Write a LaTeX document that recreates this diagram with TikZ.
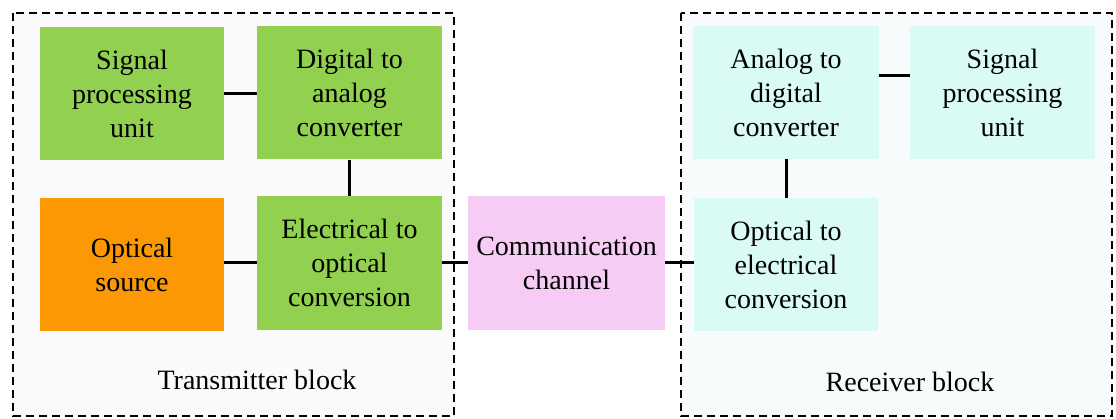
\documentclass[tikz,border=0pt]{standalone}
\usepackage{fontspec}
\newfontfamily\timesfont{Liberation Serif}
\begin{document}
\begin{tikzpicture}[x=1pt,y=-1pt,
  blk/.style={rectangle, inner sep=0pt, align=center, font=\timesfont\fontsize{28}{34}\selectfont},
  frame/.style={draw=black, line width=2.8pt, dash pattern=on 8pt off 5pt},
  wire/.style={draw=black, line width=3pt}]
\definecolor{greenblk}{RGB}{146,208,80}
\definecolor{orangeblk}{RGB}{251,152,4}
\definecolor{pinkblk}{RGB}{246,204,245}
\definecolor{cyanblk}{RGB}{218,250,244}
\definecolor{txfill}{RGB}{250,250,253}
\definecolor{rxfill}{RGB}{248,251,251}
\useasboundingbox (0,0) rectangle (1116,419);
\fill[white] (0,0) rectangle (1116,419);

% block frames
\draw[frame, fill=txfill] (13,13) rectangle (454,416);
\draw[frame, fill=rxfill] (681,13) rectangle (1112,416);

% transmitter
\node[blk, fill=greenblk, minimum width=184pt, minimum height=133pt] (spu) at (132,93.5) {Signal\\processing\\unit};
\node[blk, fill=greenblk, minimum width=185pt, minimum height=133pt] (dac) at (349.5,93) {Digital to\\analog\\converter};
\node[blk, fill=orangeblk, minimum width=184pt, minimum height=133pt] (src) at (132,264.5) {Optical\\source};
\node[blk, fill=greenblk, minimum width=185pt, minimum height=134pt] (eo) at (349.5,263) {Electrical to\\optical\\conversion};

% channel
\node[blk, fill=pinkblk, minimum width=197pt, minimum height=134pt] (ch) at (566.5,263) {Communication\\channel};

% receiver
\node[blk, fill=cyanblk, minimum width=186pt, minimum height=133pt] (adc) at (786,92.5) {Analog to\\digital\\converter};
\node[blk, fill=cyanblk, minimum width=185pt, minimum height=133pt] (spur) at (1002.5,92.5) {Signal\\processing\\unit};
\node[blk, fill=cyanblk, minimum width=184pt, minimum height=133pt] (oe) at (786,264.5) {Optical to\\electrical\\conversion};

% frame captions
\node[blk] (txlbl) at (257,380) {Transmitter block};
\node[blk] (rxlbl) at (910,382) {Receiver block};

% connectors
\coordinate (lvl) at (0,76);
\coordinate (mid) at (0,263);
\draw[wire] (spu.east) -- (dac.west |- spu.east);
\draw[wire] (dac.south) -- (eo.north);
\draw[wire] (src.east |- mid) -- (eo.west |- mid);
\draw[wire] (eo.east |- mid) -- (ch.west |- mid);
\draw[wire] (ch.east |- mid) -- (oe.west |- mid);
\draw[wire] (adc.south) -- (oe.north);
\draw[wire] (adc.east |- lvl) -- (spur.west |- lvl);
\end{tikzpicture}
\end{document}
